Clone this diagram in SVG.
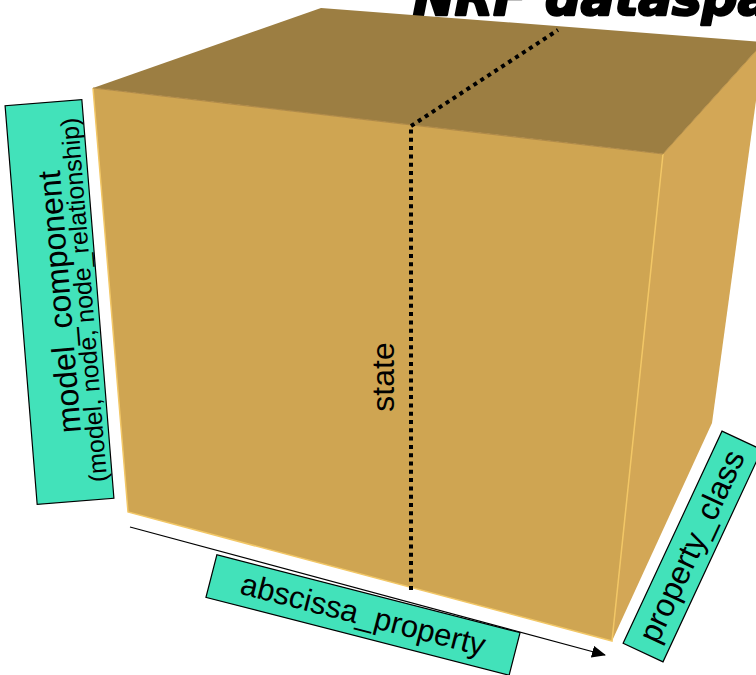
<svg xmlns="http://www.w3.org/2000/svg" width="756" height="675" viewBox="0 0 756 675">
  <defs>
    <marker id="arrow" viewBox="0 0 14 12" refX="13" refY="6" markerWidth="14" markerHeight="12" markerUnits="userSpaceOnUse" orient="auto">
      <path d="M0,0 L14,6 L0,12 Z" fill="#000"/>
    </marker>
  </defs>
  <style>
    .label-box { fill: #42E2BA; stroke: #000; stroke-width: 1.2; }
    .label { font-family: "Liberation Sans", Arial, sans-serif; fill: #000; text-anchor: middle; }
    .dots { fill: none; stroke: #000; stroke-width: 4; stroke-dasharray: 4 4.3; }
    .edge { fill: none; stroke: #F2C766; stroke-width: 1.5; }
  </style>
  <rect width="756" height="675" fill="#fff"/>

  <!-- title -->
  <text x="413" y="15" font-family="DejaVu Sans, sans-serif" font-size="50" font-weight="900" font-style="italic" fill="#000" stroke="#000" stroke-width="2.5" stroke-linejoin="round">NRF dataspace</text>

  <!-- cube -->
  <g id="cube">
    <polygon points="93,88 321,8 764,42 663,154" fill="#9C7E42"/>
    <polygon points="663,154 764,42 712,423 612,641" fill="#D3A756"/>
    <polygon points="93,88 663,154 612,641 128,512" fill="#CFA552"/>
    <polyline class="edge" points="93,88 128,512 612,641 663,154"/>
    <line x1="93" y1="88" x2="663" y2="154" stroke="#B08A48" stroke-width="1.2"/>
    <line x1="663" y1="154" x2="764" y2="42" stroke="#B89048" stroke-width="1"/>
  </g>

  <!-- state slice -->
  <g id="state">
    <line class="dots" x1="411" y1="590" x2="411" y2="126"/>
    <line class="dots" x1="411" y1="126" x2="558" y2="30"/>
    <text class="label" font-size="32" transform="translate(394,377) rotate(-90)">state</text>
  </g>

  <!-- connectors -->
  <g id="connectors">
    <line x1="130" y1="527" x2="605" y2="655" stroke="#000" stroke-width="1.2" marker-end="url(#arrow)"/>
  </g>

  <!-- axis labels -->
  <g id="model_component" transform="translate(59.5,302) rotate(-4.6)">
    <rect class="label-box" x="-38.5" y="-200" width="77" height="400"/>
    <text class="label" font-size="32" transform="rotate(-90)" y="11">model_component</text>
    <text class="label" font-size="25" transform="rotate(-90)" y="33">(model, node, node_relationship)</text>
  </g>

  <g id="abscissa_property" transform="translate(363,615) rotate(14.4)">
    <rect class="label-box" x="-156.5" y="-22" width="313" height="44"/>
    <text class="label" font-size="31" y="10">abscissa_property</text>
  </g>

  <g id="property_class" transform="translate(692.5,546.5) rotate(-65)">
    <rect class="label-box" x="-117" y="-22" width="234" height="44"/>
    <text class="label" font-size="32" y="10">property_class</text>
  </g>
</svg>
